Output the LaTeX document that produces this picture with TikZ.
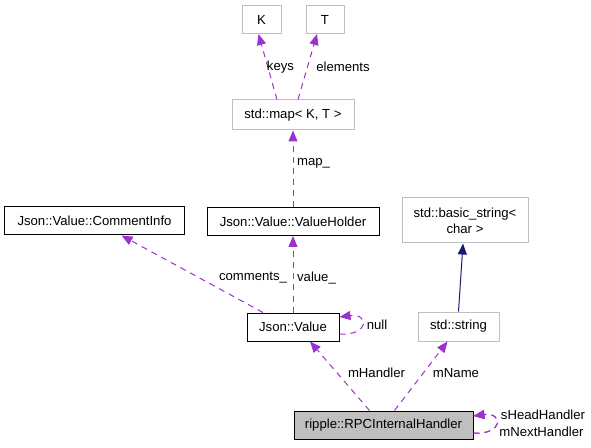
\documentclass[tikz,border=0pt]{standalone}
\usepackage{fontspec}
\setmainfont{Liberation Sans}
\usepackage{tikz}
\usetikzlibrary{calc,arrows.meta,positioning}
\definecolor{edgepurple}{HTML}{9A32CD}
\definecolor{boxgray}{HTML}{BFBFBF}
\definecolor{inhnavy}{HTML}{191970}
\tikzstyle{collab}=[
  x=1bp,y=-1bp,line width=1bp,font=\fontsize{13.2}{16}\selectfont
]
\tikzstyle{classnode}=[
  draw=black,rectangle,inner sep=2pt,minimum height=28bp,fill=white
]
\tikzstyle{extnode}=[
  classnode,draw=boxgray
]
\tikzstyle{focusnode}=[
  classnode,fill=boxgray
]
\tikzstyle{useedge}=[
  -{Triangle[length=11bp,width=9bp]},draw=edgepurple,dash pattern=on 6bp off 5bp
]
\tikzstyle{inhedge}=[
  -{Triangle[length=11bp,width=9bp]},draw=inhnavy
]
\tikzstyle{edgelabel}=[
  inner sep=0pt
]

\begin{document}
\begin{tikzpicture}[collab]
      \useasboundingbox (0,0) rectangle (591,448);
      \node (K) [extnode,minimum width=39bp] at (261.5,19.5) {K};
      \node (T) at ($(K) + (63.5bp, 0)$) [extnode,minimum width=38bp] {T};
      \node (map) [extnode,minimum width=122bp,minimum height=30bp] at (293,115) {std::map< K, T >};
      \node (vh) [classnode,minimum width=172bp] at (293,221.5) {Json::Value::ValueHolder};
      \node (ci) [classnode,minimum width=179bp] at (94.5,221) {Json::Value::CommentInfo};
      \node (bs) [extnode,minimum width=126bp,minimum height=45bp,align=center] at (465,220.5) {std::basic\_string<\\char >};
      \node (str) [extnode,minimum width=81bp,minimum height=29bp] at (458.5,326.5) {std::string};
      \node (jv) [classnode,minimum width=92bp] at (293,327) {Json::Value};
      \node (rpc) [focusnode,minimum width=179bp] at (383.5,425) {ripple::RPCInternalHandler};
      % template arguments
      \draw [useedge] ([xshift=-16bp]map.north) -- ([xshift=-3bp]K.south)
        node [edgelabel,at={(280.5,67)}] {keys};
      \draw [useedge] ([xshift=5bp]map.north) -- ([xshift=-8bp]T.south)
        node [edgelabel,at={(343,67)}] {elements};
      \draw [useedge] (vh.north) -- (map.south)
        node [edgelabel,at={(313.5,163)}] {map\_};
      % members of Json::Value
      \draw [useedge] (jv.north) -- (vh.south)
        node [edgelabel,at={(316.5,278)}] {value\_};
      \draw [useedge] ([xshift=-30bp]jv.north) -- ([xshift=27bp]ci.south)
        node [edgelabel,at={(253,278)}] {comments\_};
      \draw [useedge] ([yshift=-7bp]jv.east) .. controls +(30bp,-2bp) and +(30bp,4bp) .. ([yshift=10bp]jv.east)
        node [edgelabel,at={(377,325)}] {null};
      % string
      \draw [inhedge] (str.north) -- ([xshift=-2bp]bs.south);
      % members of the handler
      \draw [useedge] ([xshift=-14bp]rpc.north) -- ([xshift=17bp]jv.south)
        node [edgelabel,at={(376.5,373)}] {mHandler};
      \draw [useedge] ([xshift=11bp]rpc.north) -- ([xshift=-11bp]str.south)
        node [edgelabel,at={(456,373)}] {mName};
      \draw [useedge] ([yshift=-8bp]rpc.east) .. controls +(30bp,-2bp) and +(30bp,4bp) .. ([yshift=9bp]rpc.east)
        node [edgelabel,at={(543,415)}] {sHeadHandler};
      \draw [useedge] ([yshift=-8bp]rpc.east) .. controls +(30bp,-2bp) and +(30bp,4bp) .. ([yshift=9bp]rpc.east)
        node [edgelabel,at={(541.5,432)}] {mNextHandler};
\end{tikzpicture}
\end{document}
